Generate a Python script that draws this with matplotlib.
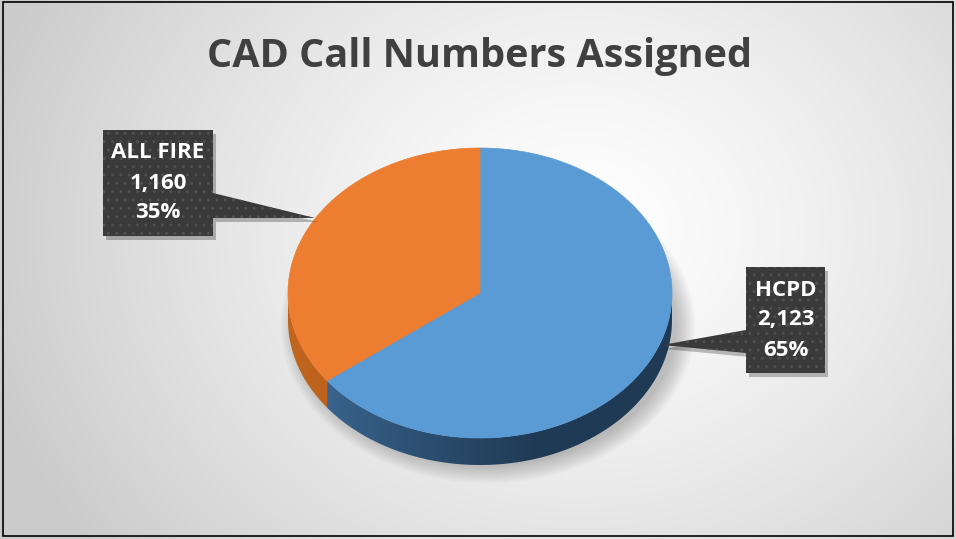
import numpy as np
import matplotlib.pyplot as plt
from matplotlib.patches import Polygon, Ellipse, Rectangle
from matplotlib.colors import to_rgb

# ── Data ─────────────────────────────────────────────────────────────────────
labels = ["HCPD", "ALL FIRE"]
values = [2123, 1160]
top_colors = ["#5b9bd5", "#ed7d31"]
side_colors = [("#41709d", "#1f3a55"), ("#c2661f", "#a95618")]

TITLE = "CAD Call Numbers Assigned"
FONT = ["Open Sans", "DejaVu Sans"]

# ── Figure in pixel coordinates ──────────────────────────────────────────────
W, H = 956, 539
fig = plt.figure(figsize=(W / 100, H / 100), dpi=100)
ax = fig.add_axes([0, 0, 1, 1])
ax.set_xlim(0, W)
ax.set_ylim(H, 0)
ax.axis("off")

# background radial gradient
yy, xx = np.mgrid[0:H, 0:W]
r = np.sqrt(((xx - 580) / 620) ** 2 + ((yy - 230) / 520) ** 2)
r = np.clip(r, 0, 1)
c0, c1 = np.array(to_rgb("#ffffff")), np.array(to_rgb("#cbcbcb"))
bg = c0 + (c1 - c0) * r[..., None] ** 1.3
ax.imshow(bg, extent=[0, W, H, 0], zorder=0)

# ── Pie geometry ─────────────────────────────────────────────────────────────
cx, cy, rx, ry, depth = 480, 293, 192, 145, 27

def ex(phi):
    return cx + rx * np.cos(np.radians(phi))

def ey(phi):
    return cy - ry * np.sin(np.radians(phi))

# soft shadow
for k in range(10):
    ax.add_patch(Ellipse((cx + 8, cy + depth + 6), 2 * rx + 30 - k * 4,
                         2 * ry + 24 - k * 4, color="#000000", alpha=0.025,
                         lw=0, zorder=1))

fracs = np.array(values) / sum(values)
starts = 90 - 360 * np.concatenate([[0], np.cumsum(fracs)[:-1]])
ends = starts - 360 * fracs

# side wall: visible front half (-180..0), split by slice, gradient-filled
for i, (s, e) in enumerate(zip(starts, ends)):
    lo, hi = e, s
    while hi > 0:
        lo, hi = lo - 360, hi - 360
    while hi < -180:
        lo, hi = lo + 360, hi + 360
    a0, a1 = max(lo, -180), min(hi, 0)
    if a1 <= a0:
        a0, a1 = max(e, -180), min(s, 0)
    if a1 <= a0:
        continue
    a = np.linspace(a0, a1, 200)
    pts = list(zip(ex(a), ey(a))) + list(zip(ex(a[::-1]), ey(a[::-1]) + depth))
    poly = Polygon(pts, closed=True, fc="none", lw=0, zorder=2)
    ax.add_patch(poly)
    c_a, c_b = np.array(to_rgb(side_colors[i][0])), np.array(to_rgb(side_colors[i][1]))
    t = np.clip((np.linspace(ex(a0), ex(a1), 400) - (cx - rx)) / (1.3 * rx), 0, 1)
    grad = (c_a + (c_b - c_a) * (t[:, None] ** 0.8))[None, :, :]
    im = ax.imshow(grad, extent=[ex(a0), ex(a1), cy + ry + depth + 2, cy - 2],
                   aspect="auto", zorder=2, interpolation="bilinear")
    im.set_clip_path(poly)

# top faces
for i, (s, e) in enumerate(zip(starts, ends)):
    a = np.linspace(s, e, 200)
    pts = [(cx, cy)] + list(zip(ex(a), ey(a)))
    ax.add_patch(Polygon(pts, closed=True, fc=top_colors[i], ec=top_colors[i],
                         lw=0.5, zorder=3))

# ── Callouts ─────────────────────────────────────────────────────────────────
def callout(box, tip, base, side, lines):
    x0, y0, x1, y1 = box
    b0, b1 = base
    if side == "right":
        pts = [(x0, y0), (x1, y0), (x1, b0), tip, (x1, b1), (x1, y1), (x0, y1)]
    else:
        pts = [(x0, y0), (x1, y0), (x1, y1), (x0, y1), (x0, b1), tip, (x0, b0)]
    sh = [(px + 3, py + 4) for px, py in pts]
    ax.add_patch(Polygon(sh, closed=True, fc="#000000", alpha=0.25, lw=0, zorder=4))
    ax.add_patch(Polygon(pts, closed=True, fc="#3a3a3a", ec="#505050", lw=0,
                         hatch="..", zorder=5))
    xc = (x0 + x1) / 2
    n = len(lines)
    for k, txt in enumerate(lines):
        yc = (y0 + y1) / 2 + (k - (n - 1) / 2) * 30
        ax.text(xc, yc, txt, ha="center", va="center", color="white",
                fontsize=16, fontweight="bold", family=FONT, zorder=6)

pcts = [f"{round(f * 100):.0f}%" for f in fracs]
vals = [f"{v:,}" for v in values]

callout((746, 267, 825, 373), (662, 345), (330, 353), "left",
        [labels[0], vals[0], pcts[0]])
callout((103, 130, 213, 236), (315, 218), (193, 218), "right",
        [labels[1], vals[1], pcts[1]])

# ── Title & frame ────────────────────────────────────────────────────────────
ax.text(480, 57, TITLE, ha="center", va="center", color="#404040",
        fontsize=28.5, fontweight="bold", family=FONT, zorder=6)
ax.add_patch(Rectangle((3, 2), 950, 534, fill=False, ec="black", lw=1.2, zorder=7))

fig.savefig("out.png", dpi=100)
